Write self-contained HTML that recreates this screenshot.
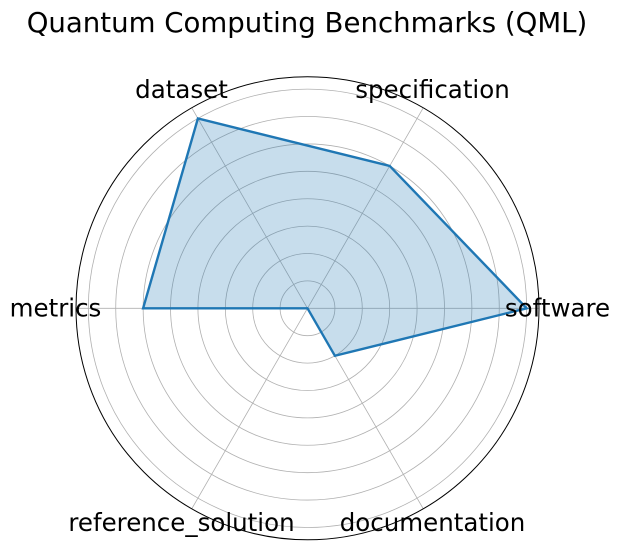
<!DOCTYPE html>
<html><head><meta charset="utf-8"><style>
html,body{margin:0;padding:0;background:#fff;}
svg{display:block;font-family:"DejaVu Sans","Liberation Sans",sans-serif;}
</style></head><body>
<svg id="chart" width="621" height="549" viewBox="0 0 621 549">
<text x="307" y="32" font-size="27.6" text-anchor="middle" fill="#000">Quantum Computing Benchmarks (QML)</text>
<g id="grid"></g>
<g id="series"></g>
<g id="labels"></g>
</svg>
<script>
const categories = ["software","specification","dataset","metrics","reference_solution","documentation"];
const values = [8, 6, 8, 6, 0, 2];
const ringTicks = [1,2,3,4,5,6,7,8];
const rMaxValue = 8.45;

const cx = 307.5, cy = 308.3, R = 231.5;
const ns = "http://www.w3.org/2000/svg";
function rScale(v){ return v / rMaxValue * R; }
function angle(i){ return i * 2 * Math.PI / categories.length; }
function pt(i, v){ const a = angle(i), r = rScale(v); return [cx + r*Math.cos(a), cy - r*Math.sin(a)]; }
function mk(tag, attrs, parent){ const e = document.createElementNS(ns, tag); for (const k in attrs) e.setAttribute(k, attrs[k]); parent.appendChild(e); return e; }

const grid = document.getElementById('grid');
ringTicks.forEach(t => {
  const c = mk('circle', {cx:cx, cy:cy, r:rScale(t), fill:'none', stroke:'#b0b0b0', 'stroke-width':0.8}, grid);
  
  
});
categories.forEach((c, i) => {
  const [x, y] = pt(i, rMaxValue);
  const l = mk('line', {x1:cx, y1:cy, x2:x, y2:y, stroke:'#b0b0b0', 'stroke-width':0.8}, grid);
  
  
});
const outer = mk('circle', {cx:cx, cy:cy, r:R, fill:'none', stroke:'#000', 'stroke-width':1}, grid);



const series = document.getElementById('series');
const pts = values.map((v, i) => pt(i, v).map(n => n.toFixed(1)).join(',')).join(' ');
const poly = mk('polygon', {points:pts, fill:'#1f77b4', 'fill-opacity':0.25, stroke:'#1f77b4', 'stroke-width':2.4, 'stroke-linejoin':'miter'}, series);



const labels = document.getElementById('labels');
categories.forEach((c, i) => {
  const a = angle(i);
  const cosA = Math.cos(a), sinA = Math.sin(a);
  let x, y;
  if (Math.abs(cosA) > 0.99) { x = cosA > 0 ? cx + 250 : cx - 252; y = cy + 8; }
  else { x = cx + (cosA > 0 ? 125 : -126); y = sinA > 0 ? 98 : 531; }
  const t = mk('text', {x:x, y:y, 'font-size':24.5, 'text-anchor':'middle', fill:'#000'}, labels);
  t.textContent = c;
  
  
});
</script>
</body></html>
